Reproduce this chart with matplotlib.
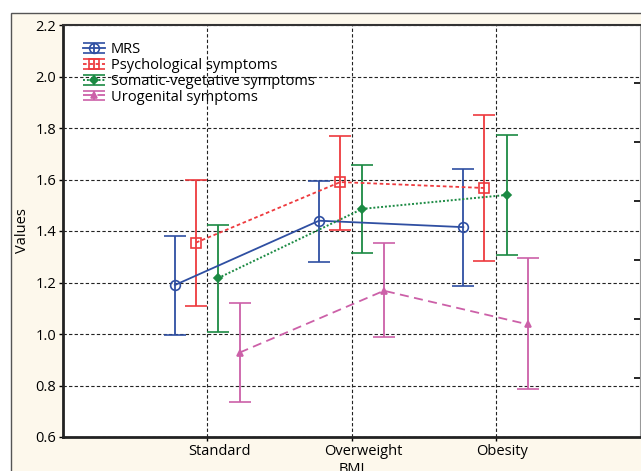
import numpy as np
import matplotlib
matplotlib.use("Agg")
import matplotlib.pyplot as plt
import matplotlib.transforms as mtransforms
from matplotlib.patches import Rectangle
from matplotlib.legend_handler import HandlerErrorbar

plt.rcParams["font.family"] = ["Open Sans", "DejaVu Sans"]

categories = ["Standard", "Overweight", "Obesity"]
series = ["MRS", "Psychological symptoms", "Somatic-vegetative symptoms", "Urogenital symptoms"]

mrs_mean = [1.19, 1.44, 1.415]
mrs_low = [0.995, 1.28, 1.185]
mrs_high = [1.38, 1.595, 1.64]

psych_mean = [1.355, 1.59, 1.567]
psych_low = [1.11, 1.405, 1.285]
psych_high = [1.60, 1.77, 1.85]

soma_mean = [1.217, 1.486, 1.54]
soma_low = [1.008, 1.315, 1.308]
soma_high = [1.422, 1.655, 1.773]

uro_mean = [0.928, 1.168, 1.037]
uro_low = [0.735, 0.99, 0.785]
uro_high = [1.122, 1.352, 1.294]

fig = plt.figure(figsize=(6.41, 4.71), dpi=100)
fig.patch.set_facecolor("white")
# cream panel with a grey border behind the plot
fig.patches.append(Rectangle((11 / 641, -0.1), 1.2, 1 - 13 / 471 + 0.1,
                             transform=fig.transFigure, facecolor="#fdf8ec",
                             edgecolor="#555555", linewidth=1.0, zorder=-10))

ax = fig.add_axes([63 / 641, 1 - 437 / 471, (640 - 63) / 641, (437 - 25) / 471])
ax.set_facecolor("white")

x = np.arange(1, len(categories) + 1)
styles = [
    (mrs_mean, mrs_low, mrs_high, "#2f4fa2", "-", "o", "none", 7, 1.3, -0.225),
    (psych_mean, psych_low, psych_high, "#ee3a3e", (0, (2, 1.5)), "s", "none", 7, 1.3, -0.078),
    (soma_mean, soma_low, soma_high, "#1b8a43", (0, (1, 1)), "D", "#1b8a43", 4, 1.4, 0.075),
    (uro_mean, uro_low, uro_high, "#cc60a8", (0, (5, 3)), "^", "#cc60a8", 5, 1.3, 0.225),
]
handles = []
for (mean, low, high, color, ls, mk, mfc, ms, lw, off), name in zip(styles, series):
    mean = np.array(mean)
    yerr = [mean - np.array(low), np.array(high) - mean]
    h = ax.errorbar(x + off, mean, yerr=yerr, color=color, linestyle=ls, linewidth=lw,
                    marker=mk, markersize=ms, markerfacecolor=mfc, markeredgecolor=color,
                    markeredgewidth=1.2, capsize=8, capthick=1.3, elinewidth=1.3,
                    label=name, zorder=3)
    handles.append(h)

ax.set_xlim(0, 4)
ax.set_ylim(0.6, 2.2)
ax.set_xticks(x)
ax.set_xticklabels(categories)
ax.set_yticks(np.arange(0.6, 2.21, 0.2))
ax.set_yticklabels([f"{v:.1f}" for v in np.arange(0.6, 2.21, 0.2)])
ax.tick_params(axis="both", labelsize=10.5, length=3, width=1, color="black", pad=2)
ax.grid(True, color="#222222", linestyle=(0, (3, 2)), linewidth=0.8, zorder=0)

# category labels sit a little right of their grid lines
for lab, dx in zip(ax.get_xticklabels(), [12, 12, 6]):
    lab.set_transform(lab.get_transform() + mtransforms.ScaledTranslation(dx / 100, 0, fig.dpi_scale_trans))

ax.set_xlabel("BMI", fontsize=10.5, labelpad=2)
ax.set_ylabel("Values", fontsize=10.5, labelpad=4)

for side in ["left", "bottom"]:
    ax.spines[side].set_linewidth(2)
    ax.spines[side].set_color("#222222")
ax.spines["top"].set_linewidth(1.5)
ax.spines["top"].set_color("#333333")
ax.spines["right"].set_linewidth(0.8)
ax.spines["right"].set_color("#999999")

# unlabelled ticks on the right edge
ax2 = ax.twinx()
ax2.set_ylim(0, 412 / 59)
ax2.set_yticks(np.arange(1, 7))
ax2.set_yticklabels([])
ax2.tick_params(axis="y", direction="in", length=4, width=1.2, color="black")
for s in ax2.spines.values():
    s.set_visible(False)

ax.legend(handles=handles, loc="upper left", bbox_to_anchor=(0.025, 0.972),
          frameon=False, fontsize=10.5, handlelength=1.5, handletextpad=0.4,
          labelspacing=0.05, borderaxespad=0,
          handler_map={h: HandlerErrorbar(xerr_size=0.33, yerr_size=0.33) for h in handles})

fig.savefig("out.png", dpi=100)
